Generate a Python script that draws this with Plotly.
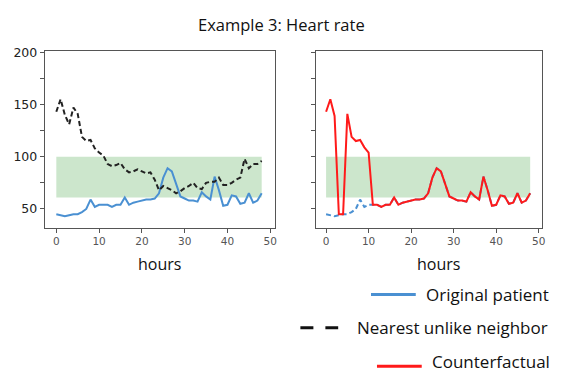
import plotly.graph_objects as go
from plotly.subplots import make_subplots

hours = list(range(49))
original = [45, 44, 43, 44, 45, 45, 47, 50, 59, 52, 54, 54, 54, 52, 54, 54, 61, 54, 56, 57,
            58, 59, 59, 60, 65, 80, 89, 86, 74, 62, 60, 58, 58, 57, 66, 62, 59, 81, 68, 53,
            54, 63, 62, 55, 56, 65, 56, 58, 65]
neighbor = [143, 155, 140, 131, 147, 141, 119, 115, 116, 108, 104, 101, 93, 91, 92, 94, 88, 85, 86, 88,
            86, 84, 85, 78, 68, 72, 70, 68, 65, 67, 70, 72, 75, 70, 69, 75, 76, 76, 80, 73,
            73, 75, 78, 80, 98, 89, 93, 93, 96]
counterfactual = [143, 155, 139, 45, 45, 141, 119, 115, 116, 109, 104, 54, 54, 52, 54, 54, 61, 54, 56, 57,
                  58, 59, 59, 60, 65, 80, 89, 86, 74, 62, 60, 58, 58, 57, 66, 62, 59, 81, 68, 53,
                  54, 63, 62, 55, 56, 65, 56, 58, 65]
band_low, band_high = 61, 100
band_start, band_end = 0, 48
y_ticks = [50, 75, 100, 125, 150, 175, 200]
y_tick_text = ["50", "", "100", "", "150", "", "200"]
x_ticks = [0, 10, 20, 30, 40, 50]

BLUE = "#4a90d2"
RED = "#ff1a1a"
GREEN = "#cce6cc"
FONT = "Open Sans"

fig = make_subplots(rows=1, cols=2)

fig.add_trace(go.Scatter(x=hours, y=original, mode="lines", line=dict(color=BLUE, width=2),
                         showlegend=False), row=1, col=1)
fig.add_trace(go.Scatter(x=hours, y=neighbor, mode="lines", line=dict(color="#222222", width=2, dash="5px,3px"),
                         showlegend=False), row=1, col=1)
fig.add_trace(go.Scatter(x=hours, y=original, mode="lines", line=dict(color=BLUE, width=2, dash="5px,3px"),
                         showlegend=False), row=1, col=2)
fig.add_trace(go.Scatter(x=hours, y=counterfactual, mode="lines", line=dict(color=RED, width=2),
                         showlegend=False), row=1, col=2)

for xr, yr in (("x", "y"), ("x2", "y2")):
    fig.add_shape(type="rect", xref=xr, yref=yr, x0=band_start, x1=band_end, y0=band_low, y1=band_high,
                  fillcolor=GREEN, line_width=0, layer="below")

axis_common = dict(showline=True, mirror=True, linecolor="#555555", linewidth=1, showgrid=False,
                   zeroline=False, ticks="outside", ticklen=4, tickcolor="#555555")

fig.update_xaxes(**axis_common, tickvals=x_ticks, tickfont=dict(family="DejaVu Sans", size=10.5, color="#555555"))
fig.update_xaxes(domain=[45/562, 276/562], range=[-2.7, 51], row=1, col=1)
fig.update_xaxes(domain=[318/562, 545/562], range=[-2.3, 50.8], row=1, col=2)
fig.update_yaxes(**axis_common, range=[32, 201], domain=[1-225/373, 1-45/373], tickvals=y_ticks)
fig.update_yaxes(ticktext=y_tick_text, tickfont=dict(family="DejaVu Sans", size=12.5, color="#222222"), row=1, col=1)
fig.update_yaxes(ticktext=[""] * len(y_ticks), row=1, col=2)

annotations = [
    dict(text="Example 3: Heart rate", x=283/562, y=1-18/373, font=dict(size=16.5, color="#111111")),
    dict(text="hours", x=160/562, y=1-262/373, font=dict(size=16, color="#111111")),
    dict(text="hours", x=441/562, y=1-262/373, font=dict(size=16, color="#111111")),
    dict(text="Original patient", x=427/562, y=1-293/373, xanchor="left", font=dict(size=17, color="#111111")),
    dict(text="Nearest unlike neighbor", x=358/562, y=1-327/373, xanchor="left", font=dict(size=17, color="#111111")),
    dict(text="Counterfactual", x=433/562, y=1-361/373, xanchor="left", font=dict(size=17, color="#111111")),
]
for a in annotations:
    a.update(xref="paper", yref="paper", showarrow=False, yanchor="middle", borderpad=0)
    a.setdefault("xanchor", "center")
    a["font"]["family"] = FONT
fig.update_layout(annotations=annotations)

legend_lines = [
    (373, 418, 293, BLUE, "solid"),
    (302, 340, 327, "#111111", "13px,12px"),
    (379, 424, 366, RED, "solid"),
]
for x0, x1, y, c, d in legend_lines:
    fig.add_shape(type="line", xref="paper", yref="paper", x0=x0/562, x1=x1/562, y0=1-y/373, y1=1-y/373,
                  line=dict(color=c, width=3, dash=d))

fig.update_layout(width=562, height=373, margin=dict(l=0, r=0, t=0, b=0),
                  paper_bgcolor="white", plot_bgcolor="white", showlegend=False)

fig.write_html("out.html")
